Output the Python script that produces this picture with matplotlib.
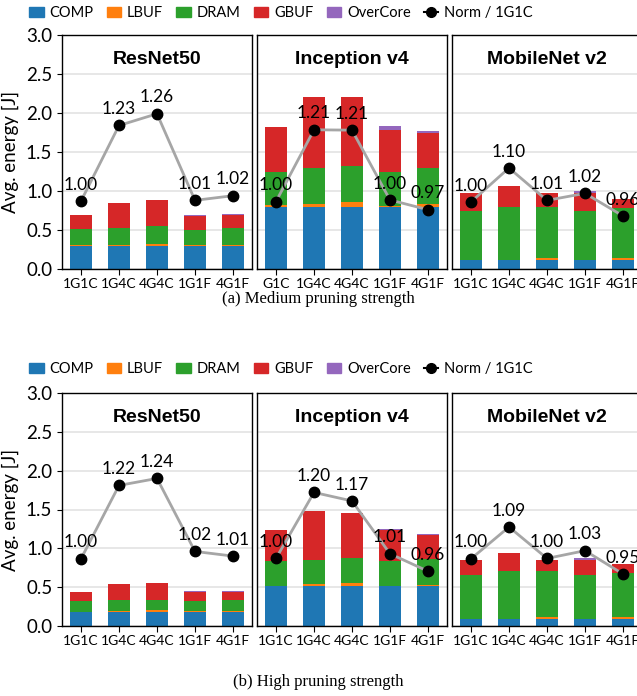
import matplotlib
matplotlib.use("Agg")
import matplotlib.pyplot as plt
from matplotlib.lines import Line2D
from matplotlib.patches import Patch

# data
configs = ["1G1C", "1G4C", "4G4C", "1G1F", "4G1F"]
models = ["ResNet50", "Inception v4", "MobileNet v2"]
parts = ["COMP", "LBUF", "DRAM", "GBUF", "OverCore"]
colors = ["#1f77b4", "#ff7f0e", "#2ca02c", "#d62728", "#9467bd"]

# medium pruning strength: segment heights per component
med_resnet = [
    [0.30, 0.30, 0.30, 0.30, 0.30],
    [0.01, 0.01, 0.02, 0.005, 0.01],
    [0.20, 0.22, 0.23, 0.19, 0.22],
    [0.18, 0.32, 0.33, 0.19, 0.16],
    [0.0, 0.0, 0.0, 0.01, 0.01],
]
med_inception = [
    [0.80, 0.80, 0.80, 0.80, 0.80],
    [0.02, 0.03, 0.06, 0.01, 0.03],
    [0.43, 0.46, 0.46, 0.43, 0.46],
    [0.57, 0.91, 0.88, 0.54, 0.46],
    [0.0, 0.0, 0.0, 0.05, 0.02],
]
med_mobilenet = [
    [0.12, 0.12, 0.12, 0.12, 0.12],
    [0.0, 0.0, 0.02, 0.0, 0.02],
    [0.63, 0.68, 0.66, 0.63, 0.64],
    [0.22, 0.265, 0.17, 0.225, 0.12],
    [0.0, 0.0, 0.0, 0.025, 0.0],
]
med_norm_y = [
    [0.87, 1.84, 1.99, 0.88, 0.94],
    [0.865, 1.785, 1.78, 0.885, 0.76],
    [0.86, 1.295, 0.88, 0.97, 0.68],
]
med_norm_lbl = [
    ["1.00", "1.23", "1.26", "1.01", "1.02"],
    ["1.00", "1.21", "1.21", "1.00", "0.97"],
    ["1.00", "1.10", "1.01", "1.02", "0.96"],
]

# high pruning strength
high_resnet = [
    [0.18, 0.18, 0.18, 0.18, 0.18],
    [0.005, 0.015, 0.03, 0.01, 0.01],
    [0.135, 0.135, 0.13, 0.13, 0.14],
    [0.12, 0.21, 0.21, 0.12, 0.11],
    [0.0, 0.0, 0.0, 0.015, 0.015],
]
high_inception = [
    [0.51, 0.51, 0.51, 0.51, 0.51],
    [0.01, 0.025, 0.045, 0.01, 0.02],
    [0.32, 0.315, 0.32, 0.32, 0.33],
    [0.40, 0.63, 0.585, 0.39, 0.315],
    [0.0, 0.0, 0.0, 0.02, 0.015],
]
high_mobilenet = [
    [0.09, 0.09, 0.09, 0.09, 0.09],
    [0.0, 0.0, 0.02, 0.0, 0.02],
    [0.57, 0.615, 0.595, 0.57, 0.57],
    [0.19, 0.235, 0.145, 0.195, 0.12],
    [0.0, 0.0, 0.0, 0.02, 0.0],
]
high_norm_y = [
    [0.865, 1.81, 1.90, 0.96, 0.90],
    [0.87, 1.72, 1.61, 0.93, 0.705],
    [0.865, 1.275, 0.87, 0.97, 0.67],
]
high_norm_lbl = [
    ["1.00", "1.22", "1.24", "1.02", "1.01"],
    ["1.00", "1.20", "1.17", "1.01", "0.96"],
    ["1.00", "1.09", "1.00", "1.03", "0.95"],
]

tick_labels_med = [configs, ["G1C"] + configs[1:], configs]
tick_labels_high = [configs, configs, configs]

sans = ["Lato", "DejaVu Sans"]
plt.rcParams["font.family"] = sans

fig = plt.figure(figsize=(6.37, 6.96), dpi=100)


def draw_row(bottom, height, stacks, norm_y, norm_lbl, tick_labels, legend_y, caption, caption_y):
    lefts = [62 / 637, 257 / 637, 452 / 637]
    width = 190 / 637
    x = list(range(len(configs)))
    for i, (left, data) in enumerate(zip(lefts, stacks)):
        ax = fig.add_axes([left, bottom, width, height])
        base = [0.0] * len(configs)
        for seg, c in zip(data, colors):
            ax.bar(x, seg, 0.6, bottom=base, color=c, zorder=2, linewidth=0)
            base = [b + s for b, s in zip(base, seg)]
        ax.plot(x, norm_y[i], color="#a6a6a6", lw=2, zorder=3)
        ax.plot(x, norm_y[i], "o", color="black", ms=7.5, zorder=4)
        for xi, yi, t in zip(x, norm_y[i], norm_lbl[i]):
            ax.annotate(t, (xi, yi), xytext=(0, 6), textcoords="offset points",
                        ha="center", va="bottom", fontsize=12.5, zorder=5,
                        annotation_clip=False)
        ax.set_xlim(-0.5, 4.5)
        ax.set_ylim(0, 3.0)
        ax.set_yticks([0, 0.5, 1.0, 1.5, 2.0, 2.5, 3.0])
        ax.grid(axis="y", color="#e3e3e3", lw=1.2, zorder=0)
        ax.set_xticks(x)
        ax.set_xticklabels(tick_labels[i], fontsize=10)
        ax.tick_params(axis="x", length=4, pad=2.5)
        ax.set_title(models[i], fontsize=14, fontweight="bold",
                     family=["Liberation Sans", "DejaVu Sans"], y=0.84)
        if i == 0:
            ax.set_yticklabels(["0.0", "0.5", "1.0", "1.5", "2.0", "2.5", "3.0"], fontsize=13.5)
            ax.set_ylabel("Avg. energy [J]", fontsize=13.5, labelpad=5)
        else:
            ax.tick_params(axis="y", length=0, labelleft=False)
        for sp in ax.spines.values():
            sp.set_color("black")
            sp.set_linewidth(1.0)

    handles = [Patch(color=c, label=p) for p, c in zip(parts, colors)]
    handles.append(Line2D([], [], color="black", marker="o", ms=7, lw=1.5, label="Norm / 1G1C"))
    fig.legend(handles=handles, loc="center", bbox_to_anchor=(281 / 637, legend_y), ncol=6,
               frameon=False, fontsize=10.5, handlelength=1.0, handletextpad=0.4,
               columnspacing=0.9, borderaxespad=0)
    fig.text(0.5, caption_y, caption, ha="center", va="center", fontsize=12,
             family=["Liberation Serif", "DejaVu Serif"])


draw_row(1 - 269 / 696, 234 / 696, [med_resnet, med_inception, med_mobilenet],
         med_norm_y, med_norm_lbl, tick_labels_med, 1 - 13 / 696,
         "(a) Medium pruning strength", 1 - 299 / 696)
draw_row(1 - 626 / 696, 233 / 696, [high_resnet, high_inception, high_mobilenet],
         high_norm_y, high_norm_lbl, tick_labels_high, 1 - 369 / 696,
         "(b) High pruning strength", 1 - 682 / 696)

fig.savefig("out.png", dpi=100)
